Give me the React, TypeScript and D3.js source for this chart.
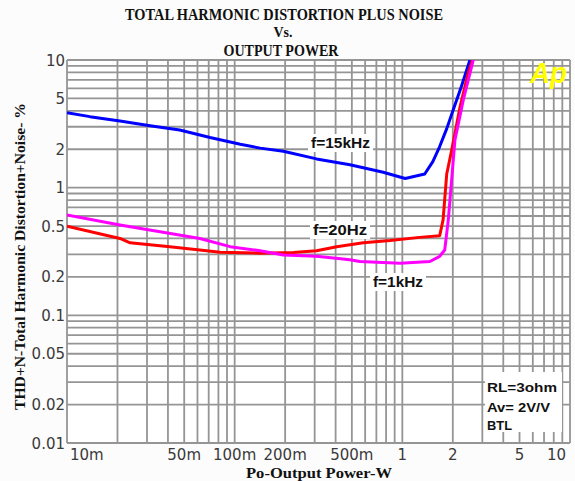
import React from "react";
import * as d3 from "d3";

const titleLines = ["TOTAL HARMONIC DISTORTION PLUS NOISE", "Vs.", "OUTPUT POWER"];
const xTickValues = [0.01, 0.05, 0.1, 0.2, 0.5, 1, 2, 5, 10];
const xTickLabels = ["10m", "50m", "100m", "200m", "500m", "1", "2", "5", "10"];
const yTickValues = [10, 5, 2, 1, 0.5, 0.2, 0.1, 0.05, 0.02, 0.01];
const yTickLabels = ["10", "5", "2", "1", "0.5", "0.2", "0.1", "0.05", "0.02", "0.01"];

const power15k = [0.01, 0.0137, 0.0207, 0.0313, 0.047, 0.0713, 0.108, 0.142, 0.195, 0.308, 0.487, 0.769, 1.04, 1.36, 1.52, 1.67, 1.84, 2.01, 2.25, 2.53];
const thd15k = [3.87, 3.6, 3.33, 3.06, 2.83, 2.47, 2.19, 2.04, 1.93, 1.68, 1.51, 1.32, 1.18, 1.28, 1.6, 2.1, 2.9, 4.06, 6.2, 10];

const power20 = [0.01, 0.0207, 0.0238, 0.041, 0.062, 0.0817, 0.1415, 0.224, 0.308, 0.406, 0.585, 0.843, 1.27, 1.67, 1.75, 1.84, 1.97, 2.21, 2.47, 2.62];
const thd20 = [0.5, 0.4, 0.37, 0.345, 0.325, 0.312, 0.307, 0.31, 0.321, 0.345, 0.37, 0.385, 0.408, 0.42, 0.56, 1.28, 1.97, 4.3, 7.9, 10];

const power1k = [0.01, 0.0207, 0.0359, 0.062, 0.094, 0.1415, 0.195, 0.308, 0.487, 0.558, 0.968, 1.46, 1.67, 1.79, 1.88, 2.06, 2.31, 2.65];
const thd1k = [0.61, 0.51, 0.452, 0.4, 0.345, 0.321, 0.297, 0.29, 0.272, 0.264, 0.256, 0.264, 0.29, 0.325, 0.56, 2.37, 4.87, 10];

const seriesNames = ["f=15kHz", "f=20Hz", "f=1kHz"];
const seriesColors = ["#0000ff", "#ff0000", "#ff00ff"];

const W = 575;
const H = 481;
const left = 67;
const right = 570;
const top = 60;
const bottom = 443;

export default function App() {
  const x = d3.scaleLog().domain([0.01, 10]).range([left, right]);
  const y = d3.scaleLog().domain([0.01, 10]).range([bottom, top]);

  const gridVals: number[] = [];
  for (const dec of [0.01, 0.1, 1]) {
    for (let k = 1; k <= 10; k++) gridVals.push(+(dec * k).toPrecision(3));
  }
  const uniq = Array.from(new Set(gridVals));

  const line = d3
    .line<[number, number]>()
    .x((d) => x(d[0]))
    .y((d) => y(d[1]));

  const series: [number, number][][] = [
    power15k.map((p, i) => [p, thd15k[i]]),
    power20.map((p, i) => [p, thd20[i]]),
    power1k.map((p, i) => [p, thd1k[i]]),
  ];

  const gridColor = "#959595";
  const serif = "'Liberation Serif', 'Times New Roman', serif";
  const sans = "'Liberation Sans', Arial, sans-serif";
  const tickFont = "'DejaVu Sans', sans-serif";

  const labels = [
    { text: seriesNames[0], x: 311, y: 148, w: 59 },
    { text: seriesNames[1], x: 313, y: 235, w: 54 },
    { text: seriesNames[2], x: 373, y: 287, w: 50 },
  ];

  return (
    <svg
      width={W}
      height={H}
      style={{ position: "absolute", left: 0, top: 0, background: "#fcfcfc" }}
    >
      <defs>
        <clipPath id="plotclip">
          <rect x={left} y={top} width={right - left} height={bottom - top} />
        </clipPath>
      </defs>
      <rect x={left} y={top} width={right - left} height={bottom - top} fill="#ffffff" />
      {/* grid */}
      {uniq.map((v) => (
        <line key={"gx" + v} x1={x(v)} x2={x(v)} y1={top} y2={bottom} stroke={gridColor} strokeWidth={1.8} />
      ))}
      {uniq.map((v) => (
        <line key={"gy" + v} x1={left} x2={right} y1={y(v)} y2={y(v)} stroke={gridColor} strokeWidth={1.8} />
      ))}
      {/* info box */}
      <rect x={485} y={372} width={77} height={60} fill="#ffffff" />
      <g fontFamily={sans} fontWeight="bold" fontSize={13} fill="#111">
        <text x={487} y={391.5} textLength={70} lengthAdjust="spacingAndGlyphs">RL=3ohm</text>
        <text x={487} y={411.5} textLength={63} lengthAdjust="spacingAndGlyphs">Av= 2V/V</text>
        <text x={487} y={430} textLength={25} lengthAdjust="spacingAndGlyphs">BTL</text>
      </g>
      {/* Ap logo */}
      <text x={530} y={83} fontFamily={sans} fontWeight="bold" fontStyle="italic" fontSize={29} fill="#ffff00" textLength={37} lengthAdjust="spacingAndGlyphs">
        Ap
      </text>
      {/* curves */}
      <g clipPath="url(#plotclip)">
        {series.map((s, i) => (
          <path key={i} d={line(s) || ""} fill="none" stroke={seriesColors[i]} strokeWidth={3} strokeLinejoin="round" />
        ))}
      </g>
      {/* curve labels */}
      {labels.map((l, i) => (
        <g key={"lab" + i}>
          <rect x={l.x - 3} y={l.y - 14} width={l.w + 6} height={18} fill="#ffffff" />
          <text x={l.x} y={l.y} fontFamily={sans} fontWeight="bold" fontSize={14} fill="#111" textLength={l.w} lengthAdjust="spacingAndGlyphs">
            {l.text}
          </text>
        </g>
      ))}
      {/* y tick labels */}
      {yTickValues.map((v, i) => (
        <text key={"yt" + v} x={65} y={y(v) + 5.5} textAnchor="end" fontFamily={tickFont} fontSize={15} fill="#3a3a3a">
          {yTickLabels[i]}
        </text>
      ))}
      {/* x tick labels */}
      {xTickValues.map((v, i) => {
        const first = i === 0;
        const last = i === xTickValues.length - 1;
        return (
          <text
            key={"xt" + v}
            x={first ? x(v) + 3 : last ? x(v) - 4 : x(v)}
            y={460}
            textAnchor={first ? "start" : last ? "end" : "middle"}
            fontFamily={tickFont}
            fontSize={15}
            fill="#3a3a3a"
          >
            {xTickLabels[i]}
          </text>
        );
      })}
      {/* titles */}
      <g fontFamily={serif} fontWeight="bold" fill="#111" textAnchor="middle">
        <text x={284} y={20} fontSize={16} textLength={318} lengthAdjust="spacingAndGlyphs">{titleLines[0]}</text>
        <text x={283} y={37} fontSize={15} textLength={19} lengthAdjust="spacingAndGlyphs">{titleLines[1]}</text>
        <text x={281} y={55.5} fontSize={16} textLength={115} lengthAdjust="spacingAndGlyphs">{titleLines[2]}</text>
        <text x={319} y={477.5} fontSize={15} textLength={146} lengthAdjust="spacingAndGlyphs">Po-Output Power-W</text>
        <text
          transform="translate(24.5,256.5) rotate(-90)"
          x={0}
          y={0}
          fontSize={15}
          textLength={307}
          lengthAdjust="spacingAndGlyphs"
        >
          THD+N-Total Harmonic Distortion+Noise- %
        </text>
      </g>
    </svg>
  );
}
